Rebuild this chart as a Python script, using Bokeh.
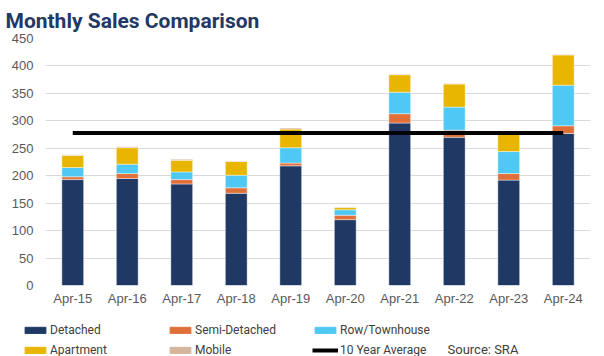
from bokeh.plotting import figure
from bokeh.layouts import column
from bokeh.models import Legend, LegendItem, Label, FactorRange, Range1d
from bokeh.embed import file_html
from bokeh.resources import INLINE

CATS = ["Apr-15", "Apr-16", "Apr-17", "Apr-18", "Apr-19",
        "Apr-20", "Apr-21", "Apr-22", "Apr-23", "Apr-24"]
DETACHED = [193, 195, 185, 168, 218, 120, 296, 270, 192, 277]
SEMI = [5, 9, 8, 10, 5, 8, 17, 13, 12, 14]
ROW = [17, 17, 14, 23, 28, 10, 39, 42, 40, 74]
APARTMENT = [22, 30, 21, 25, 34, 4, 32, 42, 31, 55]
MOBILE = [1, 2, 2, 1, 2, 1, 1, 1, 1, 1]
AVG = 278
Y_TICKS = [0, 50, 100, 150, 200, 250, 300, 350, 400, 450]

SERIES = ["Detached", "Semi-Detached", "Row/Townhouse", "Apartment", "Mobile"]
COLORS = ["#1F3864", "#E0703A", "#4FC8F4", "#E8B600", "#D5B59C"]
AVG_LABEL = "10 Year Average"

data = {"cat": CATS, "Detached": DETACHED, "Semi-Detached": SEMI,
        "Row/Townhouse": ROW, "Apartment": APARTMENT, "Mobile": MOBILE}

p = figure(width=604, height=312, x_range=FactorRange(*CATS), y_range=Range1d(0, 450),
           output_backend="svg", toolbar_location=None,
           min_border_left=45, min_border_right=14, min_border_top=38, min_border_bottom=27)
p.outline_line_color = None
p.frame_align = False

p.vbar_stack(SERIES, x="cat", width=0.4, color=COLORS, source=data,
             line_color="white", line_width=0.6, line_alpha=0.7)
p.line(x=[CATS[0], CATS[-1]], y=[AVG, AVG], line_color="black", line_width=4)

p.yaxis.ticker = Y_TICKS
p.ygrid.grid_line_color = "#D9D9D9"
p.xgrid.grid_line_color = None
for ax in (p.xaxis, p.yaxis):
    ax.axis_line_color = None
    ax.major_tick_line_color = None
    ax.minor_tick_line_color = None
    ax.major_tick_out = 0
    ax.major_tick_in = 0
    ax.major_label_text_font = "Liberation Sans"
    ax.major_label_text_font_size = "13px"
    ax.major_label_text_color = "#595959"
p.yaxis.major_label_standoff = 12
p.xaxis.major_label_standoff = 5

p.title.text = "Monthly Sales Comparison"
p.title.text_font = "Roboto"
p.title.text_font_size = "21px"
p.title.text_font_style = "bold"
p.title.text_color = "#1F3864"
p.title.offset = -40
p.title.standoff = 12

# legend strip (hidden copies of the series supply the legend swatches)
p2 = figure(width=604, height=44, x_range=FactorRange(*CATS), y_range=Range1d(0, 450),
            output_backend="svg", toolbar_location=None,
            x_axis_location=None, y_axis_location=None,
            min_border_left=0, min_border_right=0, min_border_top=0, min_border_bottom=0)
p2.outline_line_color = None
p2.frame_align = False
p2.xgrid.grid_line_color = None
p2.ygrid.grid_line_color = None

leg_r = {}
for name, col in zip(SERIES, COLORS):
    leg_r[name] = p2.vbar(x="cat", top=name, width=0.4, color=col, source=data, visible=False)
leg_avg = p2.line(x=[CATS[0], CATS[-1]], y=[AVG, AVG], line_color="black", line_width=4,
                  visible=False)

items = [LegendItem(label=n, renderers=[leg_r[n]]) for n in SERIES]
items.append(LegendItem(label=AVG_LABEL, renderers=[leg_avg]))
legend = Legend(items=items, orientation="horizontal", ncols=3,
                glyph_width=26, glyph_height=8, label_standoff=2, label_width=117,
                label_height=20, spacing=0, padding=0, margin=0,
                border_line_color=None, background_fill_alpha=0,
                inactive_fill_alpha=0,
                label_text_font="Roboto", label_text_font_size="12px",
                label_text_color="#404040", location=(22, -4))
p2.add_layout(legend)

src = Label(x=447, y=7, x_units="screen", y_units="screen", text="Source: SRA",
            text_font="Roboto", text_font_size="13px", text_color="#404040",
            text_baseline="middle")
p2.add_layout(src)

layout = column(p, p2, spacing=0)
open("out.html", "w").write(file_html(layout, INLINE))
